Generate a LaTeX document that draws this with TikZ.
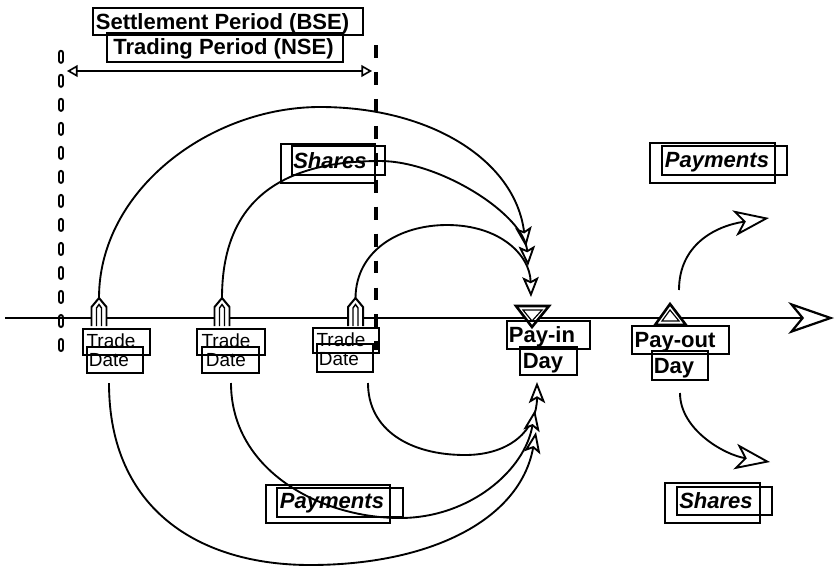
\documentclass[tikz,border=0pt]{standalone}
\usepackage{fontspec}
\setmainfont{Liberation Sans}
\usetikzlibrary{arrows.meta}
\begin{document}
\begin{tikzpicture}[x=0.8536pt,y=-0.8536pt,
  curve/.style={line width=1.6pt},
  box/.style={line width=1.1pt},
  headtxt/.style={font=\fontsize{18.8}{20}\selectfont\bfseries, inner sep=0pt, anchor=base},
  flowtxt/.style={font=\fontsize{18.8}{20}\selectfont\bfseries\itshape, inner sep=0pt, anchor=base},
  datetxt/.style={font=\fontsize{16.2}{17}\selectfont, inner sep=0pt, anchor=base},
  intip/.tip={Stealth[fill=white, length=17pt, width=14pt, inset=3.5pt]},
  uptip/.tip={Stealth[fill=white, length=18pt, width=14pt, inset=4pt]},
  outtip/.tip={Stealth[fill=white, length=30pt, width=22pt, inset=8pt]},
  axistip/.tip={Stealth[fill=white, length=39pt, width=27pt, inset=11pt]},
  spantip/.tip={Triangle[fill=white, length=9pt, width=10pt]},
  trademark/.pic={
    \filldraw[fill=white, line width=1.7pt] (-7.5,28) -- (-7.5,9) -- (0,0) -- (7.5,9) -- (7.5,28);
    \draw[line width=1.2pt] (-2.5,28) -- (-2.5,10) -- (0,6.5) -- (2.5,10) -- (2.5,28);
  }]
\useasboundingbox (0,0) rectangle (836,570);

% ---- period markers and span ----
\coordinate (lt) at (61,53);
\coordinate (lb) at (61,350);
\coordinate (rt) at (376,45);
\coordinate (rb) at (376,350);
\draw[line width=1.6pt, double distance=2.3pt, dash pattern=on 6.5pt off 14pt, line cap=round] (lt) -- (lb);
\draw[line width=3.8pt, dash pattern=on 11pt off 12pt] (rt) -- (rb);

\coordinate (sl) at (67,71);
\coordinate (sr) at (372,71);
\draw[line width=1.4pt, {spantip}-{spantip}] (sl) -- (sr);

\node[headtxt] (bse) at (222.5,29) {Settlement Period (BSE)};
\draw[box] (93,8) rectangle (363,35);
\node[headtxt] (nse) at (223.5,54) {Trading Period (NSE)};
\draw[box] (107,33) rectangle (343,62);

% ---- time axis ----
\coordinate (ax0) at (5,318);
\coordinate (ax1) at (834,318);
\draw[line width=1.9pt, -{axistip}] (ax0) -- (ax1);

% ---- trade dates ----
\coordinate (m1) at (99,298);
\coordinate (m2) at (222,298);
\coordinate (m3) at (355.5,298);
\pic at (m1) {trademark};
\pic at (m2) {trademark};
\pic at (m3) {trademark};

\node[datetxt] (tr1) at (111,347) {Trade};
\draw[box] (83,329) rectangle (150,355);
\node[datetxt] (da1) at (109,366) {Date};
\draw[box] (87,347) rectangle (143,373);

\node[datetxt] (tr2) at (226,347) {Trade};
\draw[box] (197,329) rectangle (265,355);
\node[datetxt] (da2) at (226,366) {Date};
\draw[box] (202,347) rectangle (259,373);

\node[datetxt] (tr3) at (341,346) {Trade};
\draw[box] (313,328) rectangle (379,353);
\node[datetxt] (da3) at (339,365) {Date};
\draw[box] (317,344) rectangle (373,372);

% ---- pay-in / pay-out days ----
\draw[line width=2.2pt, fill=white] (516,306) -- (549,306) -- (532,327) -- cycle;
\draw[line width=1pt] (523,310) -- (542,310) -- (532,321) -- cycle;
\node[headtxt] (pin) at (542,342) {Pay-in};
\draw[box] (507,321) rectangle (590,349);
\node[headtxt] (pind) at (543,368) {Day};
\draw[box] (520,347) rectangle (577,375);

\draw[line width=2.2pt, fill=white] (655,325) -- (686,325) -- (670,304) -- cycle;
\draw[line width=1pt] (662,321) -- (679,321) -- (670,310) -- cycle;
\node[headtxt] (pout) at (675,347) {Pay-out};
\draw[box] (632,326) rectangle (729,354);
\node[headtxt] (poutd) at (674,373) {Day};
\draw[box] (652,351) rectangle (708,380);

% ---- flow labels ----
\node[flowtxt] (sh1) at (330,168) {Shares};
\draw[box] (281,144) rectangle (375,183);
\draw[box] (292,146) rectangle (385,175);

\node[flowtxt] (pm1) at (717,167) {Payments};
\draw[box] (650,143) rectangle (775,183);
\draw[box] (662,146) rectangle (787,175);

\node[flowtxt] (pm2) at (332,508) {Payments};
\draw[box] (266,485) rectangle (390,523);
\draw[box] (277,488) rectangle (403,517);

\node[flowtxt] (sh2) at (716,508) {Shares};
\draw[box] (665,483) rectangle (760,523);
\draw[box] (677,487) rectangle (772,515);

% ---- shares delivered on pay-in day ----
\coordinate (inA) at (526,247);
\coordinate (inB) at (528,266);
\coordinate (inC) at (531,297);
\draw[curve, -{intip}] (m1) .. controls (99,190) and (210,107) .. (320,107)
  .. controls (430,107) and (515,160) .. (inA);
\draw[curve, -{intip}] (m2) .. controls (222,210) and (270,161) .. (380,161)
  .. controls (440,161) and (525,215) .. (inB);
\draw[curve, -{intip}] (m3) .. controls (356,250) and (400,225) .. (447,225)
  .. controls (500,225) and (530,255) .. (inC);

% ---- payments made on pay-in day ----
\coordinate (d1) at (109,383);
\coordinate (d2) at (231,383);
\coordinate (d3) at (368,383);
\coordinate (inD) at (537,382);
\coordinate (inE) at (535,410);
\coordinate (inF) at (536,432);
\draw[curve, -{uptip}] (d3) .. controls (368,430) and (410,455) .. (465,455)
  .. controls (510,455) and (537,430) .. (inD);
\draw[curve, -{uptip}] (d2) .. controls (231,470) and (320,518) .. (400,518)
  .. controls (470,518) and (525,470) .. (inE);
\draw[curve, -{uptip}] (d1) .. controls (109,510) and (200,565) .. (310,565)
  .. controls (430,565) and (520,520) .. (inF);

% ---- pay-out day ----
\coordinate (po1) at (679,290);
\coordinate (po2) at (680,393);
\coordinate (outU) at (769,218);
\coordinate (outL) at (770,462);
\draw[curve, -{outtip}] (po1) .. controls (679,245) and (715,226) .. (outU);
\draw[curve, -{outtip}] (po2) .. controls (680,430) and (725,455) .. (outL);
\end{tikzpicture}
\end{document}
